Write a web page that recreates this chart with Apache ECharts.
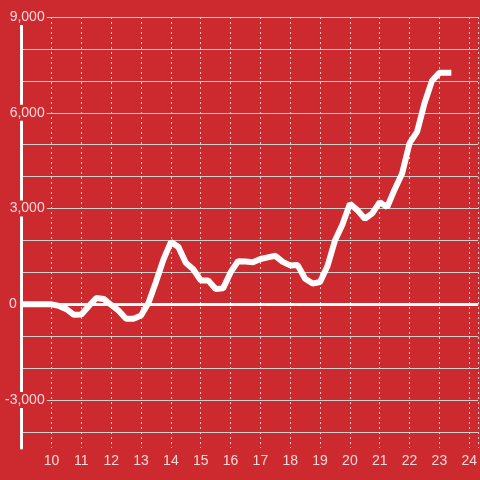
<!DOCTYPE html>
<html>
<head>
<meta charset="utf-8">
<script src="https://cdn.jsdelivr.net/npm/echarts@6/dist/echarts.min.js"></script>
<style>html,body{margin:0;padding:0;background:#cd2a30;}#c{width:480px;height:480px;}</style>
</head>
<body>
<div id="c"></div>
<script>
var xValues = [9, 9.25, 9.5, 9.75, 10, 10.25, 10.5, 10.75, 11, 11.25, 11.5, 11.75, 12, 12.25, 12.5, 12.75, 13, 13.25, 13.5, 13.75, 14, 14.25, 14.5, 14.75, 15, 15.25, 15.5, 15.75, 16, 16.25, 16.5, 16.75, 17, 17.25, 17.5, 17.75, 18, 18.25, 18.5, 18.75, 19, 19.25, 19.5, 19.75, 20, 20.25, 20.5, 20.75, 21, 21.25, 21.5, 21.75, 22, 22.25, 22.5, 22.75, 23, 23.4];
var yValues = [0, 0, 0, 0, 0, -50, -150, -330, -320, -50, 200, 170, -20, -200, -450, -450, -350, 50, 700, 1400, 1950, 1800, 1300, 1100, 750, 750, 480, 500, 1000, 1350, 1340, 1320, 1420, 1470, 1520, 1330, 1220, 1230, 800, 650, 700, 1200, 2000, 2500, 3150, 2950, 2680, 2850, 3200, 3050, 3600, 4100, 5050, 5400, 6300, 7000, 7250, 7250];
var xTickLabels = [10, 11, 12, 13, 14, 15, 16, 17, 18, 19, 20, 21, 22, 23, 24];
var yTickLabels = [-3000, 0, 3000, 6000, 9000];

var BG = '#cd2a30';
var LABEL = 'rgba(255,255,255,0.82)';
var pairs = xValues.map(function (x, i) { return [x, yValues[i]]; });

function fmt(v) {
  var s = Math.abs(v).toString().replace(/\B(?=(\d{3})+(?!\d))/g, ',');
  return (v < 0 ? '-' : '') + s;
}

var chart = echarts.init(document.getElementById('c'));
chart.setOption({
  backgroundColor: BG,
  animation: false,
  grid: { left: 20, right: 0, top: 17, bottom: 32, containLabel: false },
  xAxis: {
    type: 'value', min: 9, max: 24.3, interval: 1,
    axisLine: { show: false }, axisTick: { show: false },
    axisLabel: {
      color: LABEL, fontSize: 14, margin: 6, fontFamily: 'Liberation Sans, Arial, sans-serif',
      showMaxLabel: false,
      formatter: function (v) { return xTickLabels.indexOf(v) >= 0 ? String(v) : ''; }
    },
    splitLine: { show: true, lineStyle: { color: '#e6c9c9', width: 1, type: [2, 3] } }
  },
  yAxis: [
    {
      type: 'value', min: -4500, max: 9000, interval: 500, position: 'left', z: 0,
      axisLine: { show: true, lineStyle: { color: '#ffffff', width: 3 } },
      axisTick: { show: false }, axisLabel: { show: false },
      splitLine: { show: true, lineStyle: { color: ['transparent', '#cfcfcf'], width: 1 } }
    },
    {
      type: 'value', min: -4500, max: 9000, interval: 500, position: 'left', z: 10, offset: 0,
      axisLine: { show: false }, axisTick: { show: false }, splitLine: { show: false },
      axisLabel: {
        margin: -25, fontSize: 14, color: LABEL, fontFamily: 'Liberation Sans, Arial, sans-serif',
        formatter: function (v) {
          if (yTickLabels.indexOf(v) < 0) return '';
          if (v === 0) return '{z|0}{s|}';
          return '{a|' + fmt(v) + '}';
        },
        rich: {
          a: { backgroundColor: BG, padding: [1, 2, 1, 2], color: LABEL, fontSize: 14, lineHeight: 12 },
          z: { backgroundColor: BG, padding: [1, 2, 1, 2], color: LABEL, fontSize: 14, lineHeight: 12 },
          s: { width: 28 }
        }
      }
    }
  ],
  series: [{
    type: 'line', yAxisIndex: 0, data: pairs, showSymbol: false, symbol: 'none',
    lineStyle: { color: '#ffffff', width: 6 },
    markLine: {
      silent: true, symbol: 'none', label: { show: false },
      lineStyle: { color: '#ffffff', width: 3, type: 'solid' },
      data: [{ yAxis: 0 }]
    }
  }]
});
</script>
</body>
</html>
